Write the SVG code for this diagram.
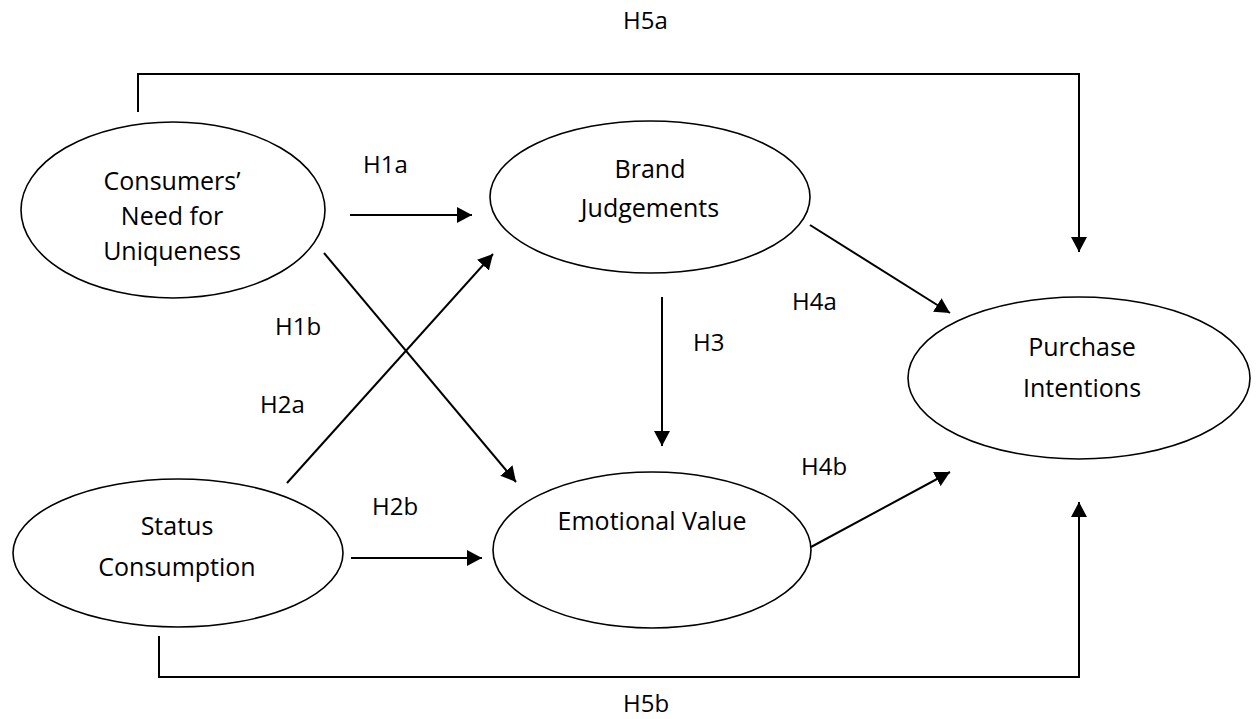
<svg xmlns="http://www.w3.org/2000/svg" width="1259" height="719" viewBox="0 0 1259 719">
<style>
  .node { fill: #ffffff; stroke: #000000; stroke-width: 1.6; }
  .ntext { font-family: "Open Sans", "Liberation Sans", sans-serif; font-size: 25px; fill: #000000; text-anchor: middle; }
  .label { font-family: "Open Sans", "Liberation Sans", sans-serif; font-size: 24px; fill: #000000; }
  .conn { fill: none; stroke: #000000; stroke-width: 2; }
  .arr { marker-end: url(#ah); }
</style>
<defs>
  <marker id="ah" markerUnits="userSpaceOnUse" markerWidth="16" markerHeight="16" refX="15" refY="8" orient="auto">
    <path d="M0,0 L15,8 L0,16 z" fill="#000000"/>
  </marker>
</defs>
<rect x="0" y="0" width="1259" height="719" fill="#ffffff"/>

<g id="connectors">
  <polyline class="conn arr" points="138,112 138,74 1079,74 1079,252"/>
  <polyline class="conn arr" points="159,636 159,677 1079,677 1079,502"/>
  <line class="conn arr" x1="350" y1="215" x2="472" y2="215"/>
  <line class="conn arr" x1="324" y1="253" x2="516" y2="482"/>
  <line class="conn arr" x1="287" y1="483" x2="493" y2="254"/>
  <line class="conn arr" x1="351" y1="558" x2="482" y2="558"/>
  <line class="conn arr" x1="662" y1="297" x2="662" y2="446"/>
  <line class="conn arr" x1="810" y1="225" x2="950" y2="313"/>
  <line class="conn arr" x1="811" y1="547" x2="950" y2="472"/>
</g>

<g id="labels">
  <text class="label" x="623" y="29">H5a</text>
  <text class="label" x="363" y="173">H1a</text>
  <text class="label" x="275" y="335">H1b</text>
  <text class="label" x="260" y="413">H2a</text>
  <text class="label" x="372" y="515">H2b</text>
  <text class="label" x="693" y="351">H3</text>
  <text class="label" x="792" y="310">H4a</text>
  <text class="label" x="801" y="475">H4b</text>
  <text class="label" x="623" y="712">H5b</text>
</g>

<g id="node-uniqueness">
  <ellipse class="node" cx="173" cy="210" rx="152" ry="88"/>
  <text class="ntext" x="172" y="190">Consumers’</text>
  <text class="ntext" x="172" y="225">Need for</text>
  <text class="ntext" x="172" y="260">Uniqueness</text>
</g>

<g id="node-brand">
  <ellipse class="node" cx="650" cy="197" rx="160" ry="76"/>
  <text class="ntext" x="650" y="178">Brand</text>
  <text class="ntext" x="650" y="217">Judgements</text>
</g>

<g id="node-purchase">
  <ellipse class="node" cx="1079" cy="378" rx="171" ry="81"/>
  <text class="ntext" x="1082" y="356">Purchase</text>
  <text class="ntext" x="1082" y="397">Intentions</text>
</g>

<g id="node-status">
  <ellipse class="node" cx="178" cy="553" rx="165" ry="74"/>
  <text class="ntext" x="177" y="535">Status</text>
  <text class="ntext" x="177" y="576">Consumption</text>
</g>

<g id="node-emotional">
  <ellipse class="node" cx="652" cy="550" rx="159" ry="78"/>
  <text class="ntext" x="652" y="530">Emotional Value</text>
</g>
</svg>
